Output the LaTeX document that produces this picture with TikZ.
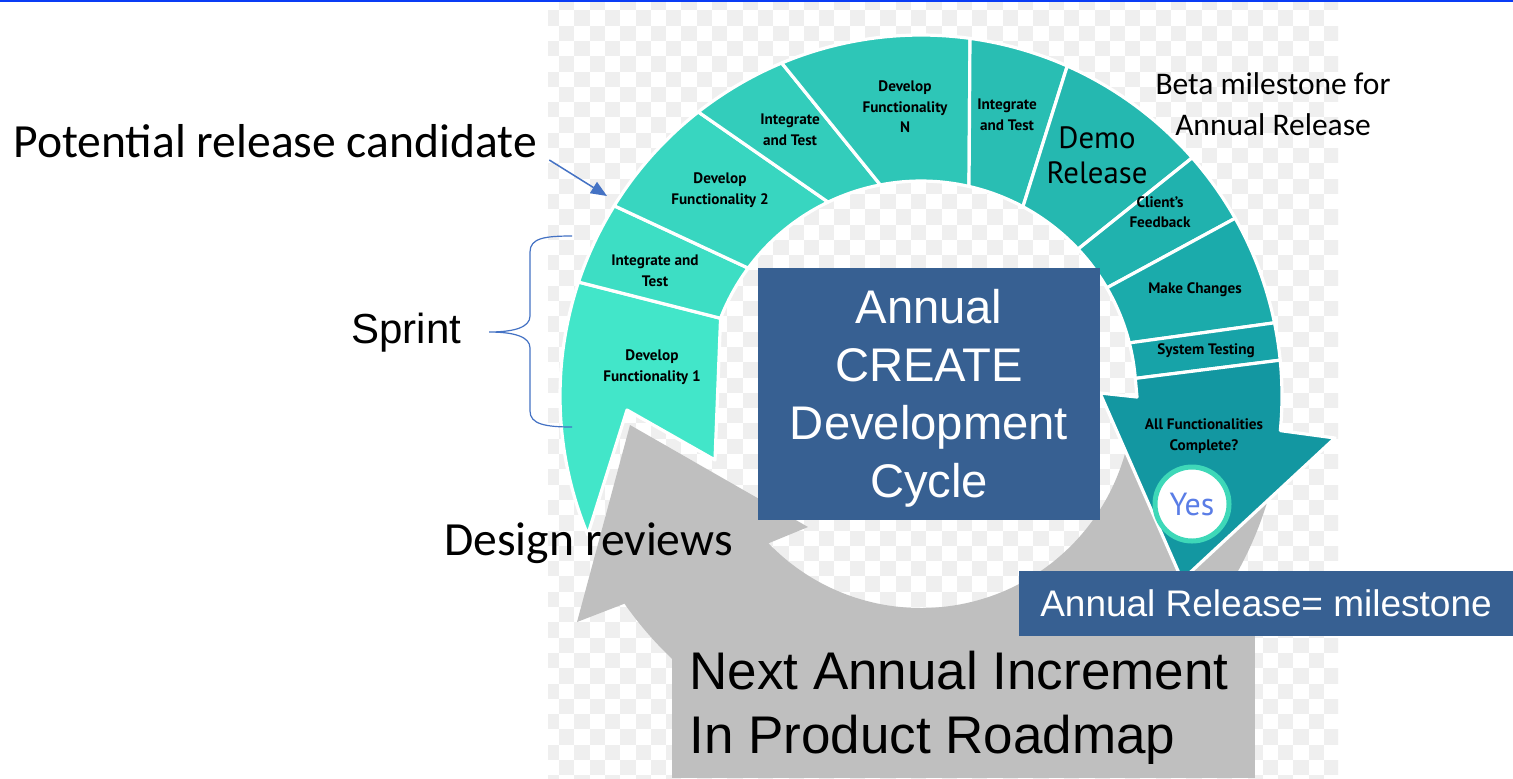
\documentclass[tikz,border=0pt]{standalone}
\usepackage{fontspec}
\setmainfont{Liberation Sans}
\newfontfamily\calibri{Carlito}
\newfontfamily\myriad{PT Sans}
\usepackage{tikz}
\usetikzlibrary{calc,arrows.meta}

\definecolor{tealA}{HTML}{42E6C9}
\definecolor{tealB}{HTML}{3DDEC4}
\definecolor{tealC}{HTML}{38D6C0}
\definecolor{tealD}{HTML}{33CDBB}
\definecolor{tealE}{HTML}{2EC6B7}
\definecolor{tealF}{HTML}{29BEB3}
\definecolor{tealG}{HTML}{25B8B0}
\definecolor{tealH}{HTML}{20B2AE}
\definecolor{tealI}{HTML}{1BABAB}
\definecolor{tealJ}{HTML}{17A3A8}
\definecolor{tealK}{HTML}{1397A1}
\definecolor{roadgray}{HTML}{BFBFBF}
\definecolor{boxblue}{HTML}{376092}
\definecolor{callblue}{HTML}{4472C4}
\definecolor{checkgray}{HTML}{EFEFEF}
\definecolor{yesblue}{HTML}{5A7DE6}
\definecolor{yesring}{HTML}{3ED8B8}
\definecolor{topblue}{HTML}{0A3CF5}

\begin{document}
\begin{tikzpicture}[x=0.5pt,y=-0.5pt]

\tikzset{seg/.style={draw=white, line width=1.6pt, line join=round},
  seglabel/.style={font=\myriad\bfseries\fontsize{7.6}{10.3}\selectfont, align=center, inner sep=0pt},
  bigbox/.style={fill=boxblue, text=white, inner sep=0pt, align=center},
  callout/.style={draw=callblue, line width=0.75pt, -{Triangle[length=8pt,width=6.5pt]}},
  brace/.style={draw=callblue, line width=0.6pt}}

\useasboundingbox (0,0) rectangle (1513,778);
\fill[white] (0,0) rectangle (1513,778);
\begin{scope}
\clip (548,0) rectangle (1338,778);
\foreach \r in {0,...,51}{
  \pgfmathtruncatemacro\rodd{mod(\r,2)}
  \foreach \c in {0,2,...,52}
    \fill[checkgray] ({559+15.3*(\c-\rodd)},{-5+15.3*\r}) rectangle ++(15.3,15.3);
}
\end{scope}
\draw[topblue, line width=1pt] (0,1) -- (1513,1);

\coordinate (C) at (921,396);

\fill[roadgray] ($(C)+(10:362)$) arc[start angle=10, end angle=145, radius=362]
  -- (577,622) -- (630,425) -- (808,527)
  -- ($(C)+(136:212)$) arc[start angle=136, end angle=10, radius=212] -- cycle;
\fill[roadgray] (672,630) rectangle (1255,778);

\filldraw[seg, fill=tealA] ($(C)+(198.4:361)$) arc[start angle=198.4, end angle=157.4, radius=361]
  -- (627,410) -- (715,460) -- ($(C)+(201.2:215)$) -- cycle;
\foreach \oa/\ob/\ia/\ib/\col in {198.4/211.8/201.2/216.5/tealB, 211.8/231.9/216.5/244.4/tealC,
    231.9/247.3/244.4/259.1/tealD, 247.3/277.8/259.1/282.9/tealE, 277.8/293.9/282.9/298.3/tealF,
    293.9/318.7/298.3/316.9/tealG, 318.7/330.5/316.9/329.8/tealH, 330.5/348.3/329.8/345.7/tealI,
    348.3/354.3/345.7/355.3/tealJ}
  \filldraw[seg, fill=\col] ($(C)+(\oa:361)$) arc[start angle=\oa, end angle=\ob, radius=361]
    -- ($(C)+(\ib:215)$) arc[start angle=\ib, end angle=\ia, radius=215] -- cycle;
\filldraw[seg, fill=tealK] ($(C)+(354.3:361)$) arc[start angle=354.3, end angle=365.5, radius=361]
  -- (1335,438) -- (1182,580) -- (1100,393) -- (1137,397) -- ($(C)+(355.3:215)$) -- cycle;

\node[seglabel] (df1) at (652,367) {Develop\\Functionality 1};
\node[seglabel] (it1) at (655,271) {Integrate and\\Test};
\node[seglabel] (df2) at (720,190) {Develop\\Functionality 2};
\node[seglabel] (it2) at (790,130) {Integrate\\and Test};
\node[seglabel] (dfn) at (905,107) {Develop\\Functionality\\N};
\node[seglabel] (it3) at (1007,115) {Integrate\\and Test};
\node[seglabel, font=\myriad\fontsize{15.4}{17.5}\selectfont] (demo) at (1097,155) {Demo\\Release};
\node[seglabel] (client) at (1160,212) {Client’s\\Feedback};
\node[seglabel] (changes) at (1195,290) {Make Changes};
\node[seglabel] (systest) at (1206,351) {System Testing};
\node[seglabel] (complete) at (1204,436) {All Functionalities\\Complete?};
\node[circle, fill=white, draw=yesring, line width=2.5pt, minimum size=37pt, inner sep=0pt,
  font=\myriad\fontsize{16}{18}\selectfont, text=yesblue] (yes) at (1192,504) {Yes};

\node[bigbox, minimum width=171pt, minimum height=126pt] (cycle) at (929,394) {};
\node[bigbox, font=\fontsize{23.6}{29}\selectfont, fill=none]
  (cycle text) at (929,398) {Annual\\CREATE\\Development\\Cycle};
\node[bigbox, minimum width=247pt, minimum height=32.5pt, font=\fontsize{18.5}{22}\selectfont]
  (release) at (1266,603.5) {Annual Release= milestone};
\node[anchor=north west, inner sep=0pt, align=left, font=\fontsize{26.5}{32}\selectfont]
  (roadmap) at (689,651) {Next Annual Increment\\In Product Roadmap};

\node[anchor=base west, inner sep=0pt, font=\calibri\fontsize{23.8}{28}\selectfont]
  (prc) at (13,157) {Potential release candidate};
\coordinate (prc tip) at (607,196);
\draw[callout] ([shift={(12,3)}]prc.base east) -- (prc tip);

\node[anchor=base west, inner sep=0pt, font=\fontsize{21}{25}\selectfont] (sprint) at (351,343) {Sprint};
\coordinate (brace top) at (572,236);
\coordinate (brace tip) at (489,332);
\coordinate (brace bottom) at (572,427);
\draw[brace] (brace top) .. controls (545,236) and (530,238) .. (530,252) -- (530,316)
  .. controls (530,327) and (515,332) .. (brace tip)
  .. controls (515,332) and (530,337) .. (530,348) -- (530,411)
  .. controls (530,424) and (545,427) .. (brace bottom);

\node[anchor=base west, inner sep=0pt, font=\calibri\fontsize{23.8}{28}\selectfont]
  (reviews) at (444,555) {Design reviews};
\node[align=center, inner sep=0pt, font=\calibri\fontsize{15.75}{20.5}\selectfont]
  (beta) at (1273,104) {Beta milestone for\\Annual Release};

\end{tikzpicture}
\end{document}
